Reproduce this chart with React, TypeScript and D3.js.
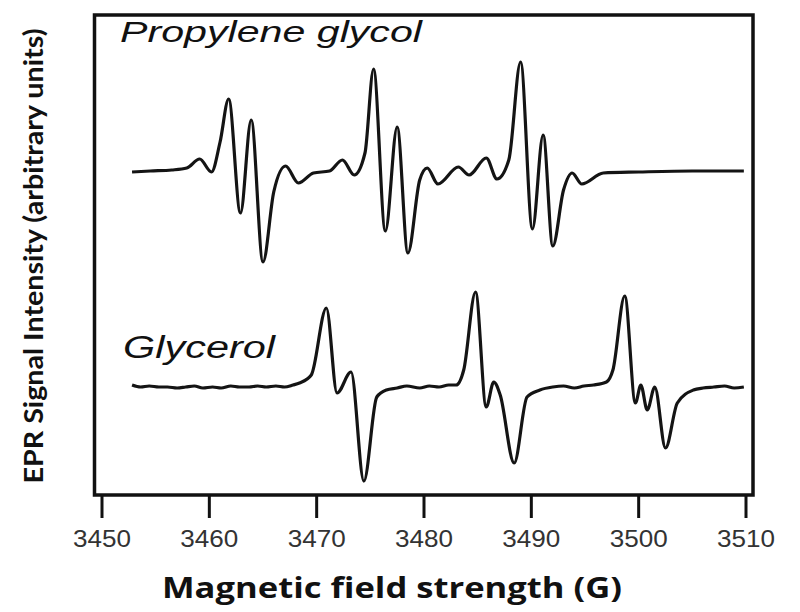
import React from "react";
import * as d3 from "d3";

// field (G) and signal (arbitrary units)
const pgField = [
  3452.8, 3454.5, 3456.5, 3457.9, 3459.1, 3460.2, 3461.0, 3461.8, 3462.9, 3463.9,
  3465.0, 3466.0, 3467.1, 3468.3, 3469.7, 3471.2, 3472.4, 3473.5, 3474.5, 3475.3,
  3476.4, 3477.5, 3478.5, 3479.6, 3480.3, 3481.3, 3483.2, 3484.2, 3485.8, 3486.8,
  3487.9, 3489.0, 3490.1, 3491.1, 3492.0, 3493.0, 3493.8, 3494.7, 3496.7, 3500.0,
  3505.0, 3509.8,
];
const pgSignal = [
  0, 1, 2, 4, 13, 0, 30, 73, -41, 52,
  -90, -20, 6, -11, -1, 1, 12, -3, 19, 103,
  -59, 45, -81, -8, 4, -12, 5, -3, 14, -7,
  12, 110, -57, 37, -74, -18, -1, -12, -1, 0,
  1, 1,
];

const glyField = [
  3452.8, 3453.6, 3454.4, 3455.3, 3456.1, 3457.0, 3457.8, 3458.6, 3459.4, 3460.3,
  3461.1, 3462.0, 3462.8, 3463.7, 3464.5, 3465.3, 3466.2, 3467.0, 3467.8, 3468.4,
  3469.5, 3470.9, 3471.9, 3473.2, 3474.4, 3475.6, 3476.5, 3477.5, 3478.4, 3479.6,
  3480.5, 3481.4, 3482.3, 3483.0, 3483.7, 3484.8, 3485.8, 3486.5, 3487.1, 3488.4,
  3489.6, 3490.8, 3492.0, 3493.0, 3494.0, 3494.9, 3495.8, 3497.0, 3497.6, 3498.7,
  3499.7, 3500.2, 3500.8, 3501.5, 3502.5, 3503.6, 3505.1, 3506.0, 3507.0, 3508.0,
  3508.9, 3509.8,
];
const glySignal = [
  2, 0, 1, 0, 0, -1, 0, 1, -1, 0,
  -1, 1, 0, 0, 1, 0, 1, 0, 2, 4,
  12, 79, -6, 15, -94, -10, -3, -1, 1, -1,
  1, 0, 2, 2, 17, 95, -20, 5, -8, -76,
  -10, -3, 0, 1, -1, 1, 2, 5, 17, 91,
  -16, 2, -23, 0, -61, -16, -3, -1, 0, 1,
  -1, 0,
];

const traceNames = ["Propylene glycol", "Glycerol"];
const traceOffsets = [323, 108];
const xTicks = [3450, 3460, 3470, 3480, 3490, 3500, 3510];

const W = 800;
const H = 612;
const frame = { left: 94.5, top: 15, right: 753, bottom: 495 };

export default function App() {
  const x = d3.scaleLinear().domain([3450, 3510]).range([102, 746]);
  const y = d3.scaleLinear().domain([0, 480]).range([frame.bottom, frame.top]);

  const line = d3
    .line<[number, number]>()
    .x((d) => x(d[0]))
    .y((d) => y(d[1]))
    .curve(d3.curveMonotoneX);

  const pg = pgField.map((f, i) => [f, pgSignal[i] + traceOffsets[0]] as [number, number]);
  const gly = glyField.map((f, i) => [f, glySignal[i] + traceOffsets[1]] as [number, number]);

  return (
    <svg
      width={W}
      height={H}
      style={{ position: "absolute", left: 0, top: 0, background: "#fff" }}
    >
      <rect
        x={frame.left}
        y={frame.top}
        width={frame.right - frame.left}
        height={frame.bottom - frame.top}
        fill="none"
        stroke="#111"
        strokeWidth={3.5}
      />

      <path d={line(pg) || ""} fill="none" stroke="#141414" strokeWidth={3.2} strokeLinejoin="round" />
      <path d={line(gly) || ""} fill="none" stroke="#141414" strokeWidth={3.2} strokeLinejoin="round" />

      <text
        x={120}
        y={42}
        fontFamily="Liberation Sans, Arial, sans-serif"
        fontStyle="italic"
        fontSize={29}
        fill="#111"
        textLength={302}
        lengthAdjust="spacingAndGlyphs"
      >
        {traceNames[0]}
      </text>
      <text
        x={123}
        y={358}
        fontFamily="Liberation Sans, Arial, sans-serif"
        fontStyle="italic"
        fontSize={31}
        fill="#111"
        textLength={152}
        lengthAdjust="spacingAndGlyphs"
      >
        {traceNames[1]}
      </text>

      {xTicks.map((t) => (
        <g key={t}>
          <line x1={x(t)} x2={x(t)} y1={frame.bottom} y2={518} stroke="#111" strokeWidth={3} />
          <text
            x={x(t)}
            y={547}
            textAnchor="middle"
            fontFamily="Liberation Sans, Arial, sans-serif"
            fontSize={24}
            fill="#333"
            textLength={58}
            lengthAdjust="spacingAndGlyphs"
          >
            {t}
          </text>
        </g>
      ))}

      <text
        x={392}
        y={598}
        textAnchor="middle"
        fontFamily="Open Sans, sans-serif"
        fontWeight="bold"
        fontSize={28}
        fill="#111"
        textLength={460}
        lengthAdjust="spacingAndGlyphs"
      >
        Magnetic field strength (G)
      </text>
      <text
        transform="translate(43,256) rotate(-90)"
        textAnchor="middle"
        fontFamily="Lato, Open Sans, sans-serif"
        fontWeight="bold"
        fontSize={27}
        fill="#111"
        textLength={455}
        lengthAdjust="spacingAndGlyphs"
      >
        EPR Signal Intensity (arbitrary units)
      </text>
    </svg>
  );
}
